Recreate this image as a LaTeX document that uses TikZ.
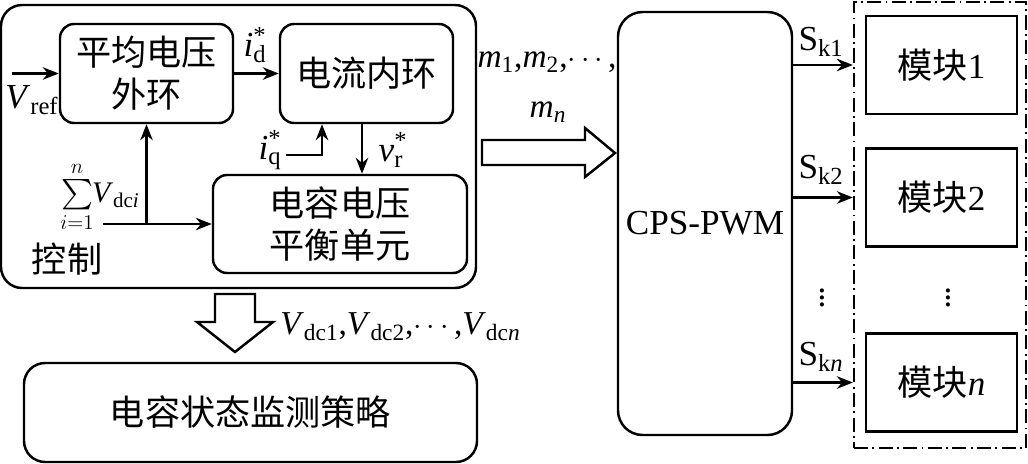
\documentclass[tikz,border=0pt]{standalone}
\usepackage{amsmath}
\usepackage{fontspec}
\setmainfont{Liberation Serif}
\newfontfamily\cjk{Noto Sans CJK SC}
\usepackage{tikz}
\usetikzlibrary{arrows.meta,positioning,calc}
\newcommand{\supsub}[2]{\rlap{\textsuperscript{#1}}\textsubscript{#2}}

\begin{document}
\begin{tikzpicture}[
blk/.style={
draw,
rounded corners=8pt,
line width=1.4pt,
align=center,
font=\fontsize{20}{24}\selectfont\cjk
},
mod/.style={
draw,
line width=1.5pt,
minimum width=3.02cm,
minimum height=1.96cm,
font=\fontsize{20}{24}\selectfont\cjk
},
lbl/.style={
font=\fontsize{20}{24}\selectfont,
inner sep=0pt
},
arrow/.style={
-{Stealth[length=0.32cm,width=0.25cm]},
line width=1.4pt
},
hollow/.style={
line width=1.4pt,
fill=white
}
]
\useasboundingbox (0,0) rectangle (20.56,-9.26);

\node[blk, rounded corners=12pt, minimum width=9.5cm, minimum height=5.66cm] (ctrl) at (4.77,-2.93) {};

\node[blk, minimum width=3.46cm, minimum height=1.98cm] (avg) at (2.93,-1.47)
{平均电压\\外环};

\node[blk, minimum width=3.46cm, minimum height=1.98cm] (cur) at (7.33,-1.47)
{电流内环};

\node[blk, minimum width=5.08cm, minimum height=1.96cm] (bal) at (6.8,-4.48)
{电容电压\\平衡单元};

\node[blk, rounded corners=12pt, minimum width=9.06cm, minimum height=1.98cm] (mon) at (5.01,-8.25)
{电容状态监测策略};

\node[blk, rounded corners=14pt, minimum width=3.48cm, minimum height=8.46cm, font=\fontsize{20}{24}\selectfont] (cps) at (14.1,-4.47)
{CPS-PWM};

\node[draw, line width=1.3pt, dash pattern=on 8pt off 2.5pt on 1pt off 2.5pt, minimum width=3.44cm, minimum height=8.92cm] (mods) at (18.8,-4.5) {};

\node[mod] (m1) at (18.83,-1.3) {模块{\rmfamily 1}};
\node[mod] (m2) at (18.83,-3.95) {模块{\rmfamily 2}};
\node[mod] (mn) at (18.83,-7.65) {模块{\rmfamily\itshape n}};

% labels
\node[lbl] (vref) at (0.64,-2.0) {\textit{V}\textsubscript{ref}};
\node[lbl] (id) at (5.1,-0.9) {\textit{i}\supsub{*}{d}};
\node[lbl] (iq) at (5.4,-3.0) {\textit{i}\supsub{*}{q}};
\node[lbl] (vr) at (7.82,-3.0) {\textit{v}\supsub{*}{r}};
\node[lbl, anchor=west, font=\fontsize{17}{20}\selectfont] (sum) at (1.2,-3.94) {$\sum\limits_{i=1}^{n}$\kern-1pt\textit{V}\textsubscript{dc\textit{i}}};
\node[lbl, font=\fontsize{20}{24}\selectfont\cjk] (kz) at (1.34,-5.18) {控制};
\node[lbl, anchor=west, font=\fontsize{19}{22}\selectfont] (vdc) at (5.6,-6.54) {\textit{V}\textsubscript{dc1},\textit{V}\textsubscript{dc2},$\cdots$,\textit{V}\textsubscript{dc\textit{n}}};
\node[lbl, font=\fontsize{19}{22}\selectfont] (ms) at (10.94,-1.24) {\textit{m}\textsubscript{1},\textit{m}\textsubscript{2},$\cdots$,};
\node[lbl, font=\fontsize{19}{22}\selectfont] (mlast) at (10.96,-2.24) {\textit{m}\textsubscript{\textit{n}}};
\node[lbl] (s1) at (16.42,-0.84) {S\textsubscript{k1}};
\node[lbl] (s2) at (16.42,-3.4) {S\textsubscript{k2}};
\node[lbl] (sn) at (16.42,-7.14) {S\textsubscript{k\textit{n}}};
\node[lbl] (d1) at (16.44,-5.85) {$\vdots$};
\node[lbl] (d2) at (18.96,-5.85) {$\vdots$};

\coordinate (vin) at (0.24,-1.47);
\coordinate (sin) at (2.06,-4.48);
\coordinate (iqin) at (5.72,-3.1);

\draw[arrow] (vin) -- (avg.west);
\draw[arrow] (avg.east) -- (cur.west);
\draw[arrow] (sin) -- (bal.west);
\draw[arrow] (avg.south |- sin) -- (avg.south);
\draw[arrow] (iqin) -| ([xshift=-0.89cm]cur.south);
\draw[arrow] ([xshift=-0.09cm]cur.south) -- ([xshift=-0.09cm]cur.south |- bal.north);

\draw[arrow] (cps.east |- m1) -- (mods.west |- m1);
\draw[arrow] (cps.east |- m2) -- (mods.west |- m2);
\draw[arrow] (cps.east |- mn) -- (mods.west |- mn);

% hollow arrows
\draw[hollow] (4.3,-5.88) -- (5.1,-5.88) -- (5.1,-6.44) -- (5.46,-6.44) -- (4.7,-7.04)
 -- (3.94,-6.44) -- (4.3,-6.44) -- cycle;
\draw[hollow] (9.64,-2.8) -- (11.7,-2.8) -- (11.7,-2.56) -- (12.3,-3.06) -- (11.7,-3.54)
 -- (11.7,-3.3) -- (9.64,-3.3) -- cycle;

\end{tikzpicture}
\end{document}
